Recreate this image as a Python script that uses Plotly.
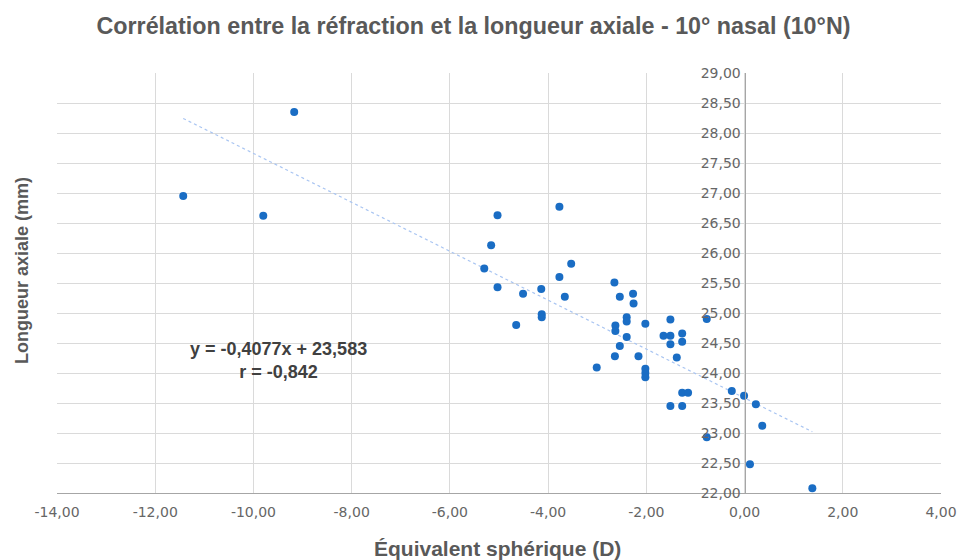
import plotly.graph_objects as go

# Spherical equivalent (D) and axial length (mm), 10° nasal
equivalent_spherique = [
    -11.43, -9.17, -9.80, -5.03, -5.16, -3.77, -5.30, -3.53, -3.77, -5.03,
    -4.51, -4.14, -3.66, -2.65, -2.54, -2.27, -2.26, -4.13, -4.13, -4.65,
    -2.40, -2.40, -2.63, -2.63, -2.02, -2.40, -2.54, -2.64, -2.16, -3.01,
    -2.02, -2.02, -2.02, -1.51, -1.65, -1.51, -1.51, -1.27, -1.27, -1.38,
    -1.27, -1.15, -1.51, -1.27, -0.77, -0.26, -0.77, -0.01, 0.23, 0.36,
    0.11, 1.38,
]
longueur_axiale = [
    26.95, 28.35, 26.62, 26.63, 26.13, 26.77, 25.74, 25.82, 25.60, 25.43,
    25.32, 25.40, 25.27, 25.51, 25.27, 25.32, 25.16, 24.98, 24.93, 24.80,
    24.93, 24.86, 24.79, 24.70, 24.82, 24.60, 24.45, 24.28, 24.28, 24.09,
    24.07, 24.00, 23.93, 24.89, 24.62, 24.62, 24.48, 24.66, 24.52, 24.26,
    23.67, 23.67, 23.45, 23.45, 24.90, 23.70, 22.93, 23.62, 23.48, 23.12,
    22.48, 22.08,
]

# Linear regression shown in the annotation
pente = -0.4077
ordonnee = 23.583
coef_r = -0.842

x_ticks = [-14, -12, -10, -8, -6, -4, -2, 0, 2, 4]
y_ticks = [22.0, 22.5, 23.0, 23.5, 24.0, 24.5, 25.0, 25.5, 26.0, 26.5,
           27.0, 27.5, 28.0, 28.5, 29.0]


def fr(v, nd=2):
    """French decimal notation with a plain hyphen minus."""
    return f"{v:.{nd}f}".replace(".", ",")


FONT = "Liberation Sans, Arial, sans-serif"
TICK_FONT = "DejaVu Sans, Liberation Sans, sans-serif"
x_min, x_max = min(equivalent_spherique), max(equivalent_spherique)
trend_x = [x_min, x_max]
trend_y = [pente * v + ordonnee for v in trend_x]

fig = go.Figure()
fig.add_trace(go.Scatter(
    x=trend_x, y=trend_y, mode="lines",
    line=dict(color="#a9c5f2", width=1.2, dash="dot"),
    hoverinfo="skip", showlegend=False,
))
fig.add_trace(go.Scatter(
    x=equivalent_spherique, y=longueur_axiale, mode="markers",
    marker=dict(color="#1a6dc4", size=8, line=dict(width=0)),
    showlegend=False,
))

x0, x1 = x_ticks[0], x_ticks[-1]
zero_pos = (0 - x0) / (x1 - x0)

fig.update_layout(
    width=961, height=560,
    margin=dict(l=57, r=20, t=73, b=67),
    paper_bgcolor="white", plot_bgcolor="white",
    font=dict(family=FONT, color="#595959"),
    title=dict(
        text="Corrélation entre la réfraction et la longueur axiale - 10° nasal (10°N)",
        x=0.4927, xanchor="center", y=0.9536, yanchor="middle",
        font=dict(family=FONT, size=23.3, color="#595959", weight="bold"),
    ),
    xaxis=dict(
        range=[x0, x1], tickvals=x_ticks, ticktext=[fr(v) for v in x_ticks],
        automargin=False,
        showgrid=True, gridcolor="#dadada", gridwidth=1,
        zeroline=False, showline=True, linecolor="#a6a6a6", linewidth=1,
        ticks="", tickfont=dict(family=TICK_FONT, size=14, color="#666666"),
        ticklabelstandoff=6,
    ),
    yaxis=dict(
        range=[y_ticks[0], y_ticks[-1]], tickvals=y_ticks,
        ticktext=[fr(v) for v in y_ticks],
        anchor="free", position=zero_pos, automargin=False,
        showgrid=True, gridcolor="#dadada", gridwidth=1,
        zeroline=False, showline=True, linecolor="#a6a6a6", linewidth=1,
        ticks="", tickfont=dict(family=TICK_FONT, size=14, color="#666666"),
        ticklabelstandoff=1,
    ),
    annotations=[
        dict(
            text="Équivalent sphérique (D)", xref="paper", yref="paper",
            x=0.498, y=-0.131, xanchor="center", yanchor="middle", showarrow=False,
            font=dict(family=FONT, size=21, color="#595959", weight="bold"),
        ),
        dict(
            text="Longueur axiale (mm)", xref="paper", yref="paper",
            x=-0.0396, y=0.531, xanchor="center", yanchor="middle", showarrow=False,
            textangle=-90,
            font=dict(family=FONT, size=18, color="#595959", weight="bold"),
        ),
        dict(
            text=(f"y = {fr(pente, 4)}x + {fr(ordonnee, 3)}"
                  + "<br>" + f"r = {fr(coef_r, 3)}"),
            xref="paper", yref="paper",
            x=(278 - 57) / 884, y=(493 - 360.5) / 420,
            xanchor="center", yanchor="middle", showarrow=False, align="center",
            font=dict(family=FONT, size=18, color="#404040", weight="bold"),
        ),
    ],
)

fig.write_html("out.html")
